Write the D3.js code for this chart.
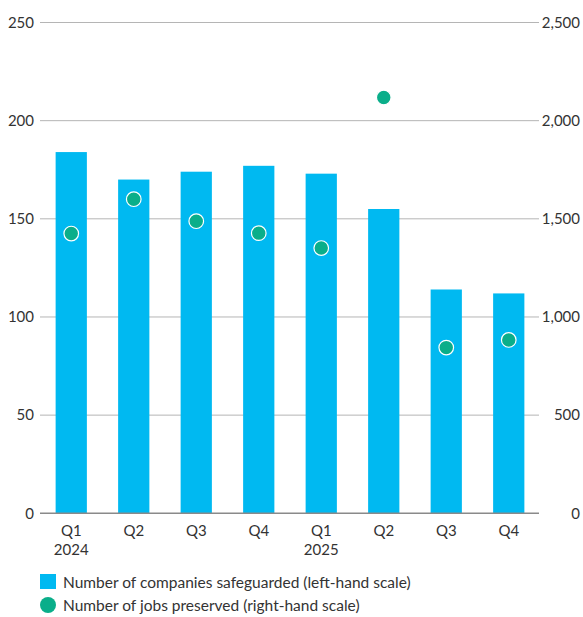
<!DOCTYPE html>
<html>
<head>
<meta charset="utf-8">
<script src="https://cdn.jsdelivr.net/npm/d3@7"></script>
<style>
  html, body { margin: 0; padding: 0; background: #fff; }
  svg { display: block; font-family: Lato, "Open Sans", sans-serif; }
</style>
</head>
<body>
<svg id="chart" width="583" height="617"></svg>
<script>
const quarters = ["Q1", "Q2", "Q3", "Q4", "Q1", "Q2", "Q3", "Q4"];
const years = ["2024", "", "", "", "2025", "", "", ""];
const companies = [184, 170, 174, 177, 173, 155, 114, 112];
const jobs = [1425, 1600, 1488, 1427, 1351, 2118, 844, 883];
const leftTicks = [0, 50, 100, 150, 200, 250];
const rightTicks = [0, 500, 1000, 1500, 2000, 2500];
const legendLabels = ["Number of companies safeguarded (left-hand scale)", "Number of jobs preserved (right-hand scale)"];

const barColor = "#00b9f1";
const dotColor = "#0aae8a";
const textColor = "#333";

const svg = d3.select("#chart");
const ids = d3.range(quarters.length);

const x = d3.scaleBand().domain(ids).range([40, 540]).paddingInner(0.5).paddingOuter(0.25);
const yL = d3.scaleLinear().domain([0, 250]).range([513.3, 22.5]);
const yR = d3.scaleLinear().domain([0, 2500]).range([513.3, 22.5]);

// grid lines
svg.append("g").selectAll("line").data(leftTicks.filter(d => d > 0)).join("line")
  .attr("x1", 40).attr("x2", 539)
  .attr("y1", d => yL(d)).attr("y2", d => yL(d))
  .attr("stroke", "#b5b5b5").attr("stroke-width", 1);

// left axis labels
const leftAxis = d3.axisLeft(yL).tickValues(leftTicks).tickSize(0).tickPadding(0).tickFormat(d3.format(","));
const gl = svg.append("g").attr("transform", "translate(34,0)").call(leftAxis);
gl.select(".domain").remove();
gl.selectAll("text").attr("font-size", 15).attr("fill", textColor).attr("font-family", "Lato, sans-serif");

// right axis labels
const rightAxis = d3.axisRight(yR).tickValues(rightTicks).tickSize(0).tickPadding(0).tickFormat(d3.format(","));
const gr = svg.append("g").attr("transform", "translate(580,0)").call(rightAxis);
gr.select(".domain").remove();
gr.selectAll("text").attr("font-size", 15).attr("fill", textColor).attr("text-anchor", "end").attr("font-family", "Lato, sans-serif");

// bars
svg.append("g").selectAll("rect").data(ids).join("rect")
  .attr("x", i => x(i)).attr("width", x.bandwidth())
  .attr("y", i => yL(companies[i])).attr("height", i => yL(0) - yL(companies[i]))
  .attr("fill", barColor);

// zero axis
svg.append("line").attr("x1", 40).attr("x2", 539)
  .attr("y1", yL(0)).attr("y2", yL(0))
  .attr("stroke", "#8a8a8a").attr("stroke-width", 1.6);

// dots
svg.append("g").selectAll("circle").data(ids).join("circle")
  .attr("cx", i => x(i) + x.bandwidth() / 2).attr("cy", i => yR(jobs[i]))
  .attr("r", 7.3)
  .attr("fill", dotColor).attr("stroke", "#fff").attr("stroke-width", 1.2);

// x labels
const xl = svg.append("g").selectAll("g").data(ids).join("g")
  .attr("transform", i => `translate(${x(i) + x.bandwidth() / 2},0)`);
xl.append("text").attr("y", 536).attr("text-anchor", "middle")
  .attr("font-size", 15).attr("fill", textColor).text(i => quarters[i]);
xl.append("text").attr("y", 555).attr("text-anchor", "middle")
  .attr("font-size", 15).attr("fill", textColor).text(i => years[i]);

// legend
const lg = svg.append("g");
lg.append("rect").attr("x", 40).attr("y", 574).attr("width", 16).attr("height", 15).attr("fill", barColor);
lg.append("circle").attr("cx", 48).attr("cy", 605).attr("r", 8).attr("fill", dotColor);
lg.append("text").attr("x", 63).attr("y", 587.5).attr("font-size", 15.5).attr("fill", textColor).text(legendLabels[0]);
lg.append("text").attr("x", 63).attr("y", 610.5).attr("font-size", 15.5).attr("fill", textColor).text(legendLabels[1]);
</script>
</body>
</html>
